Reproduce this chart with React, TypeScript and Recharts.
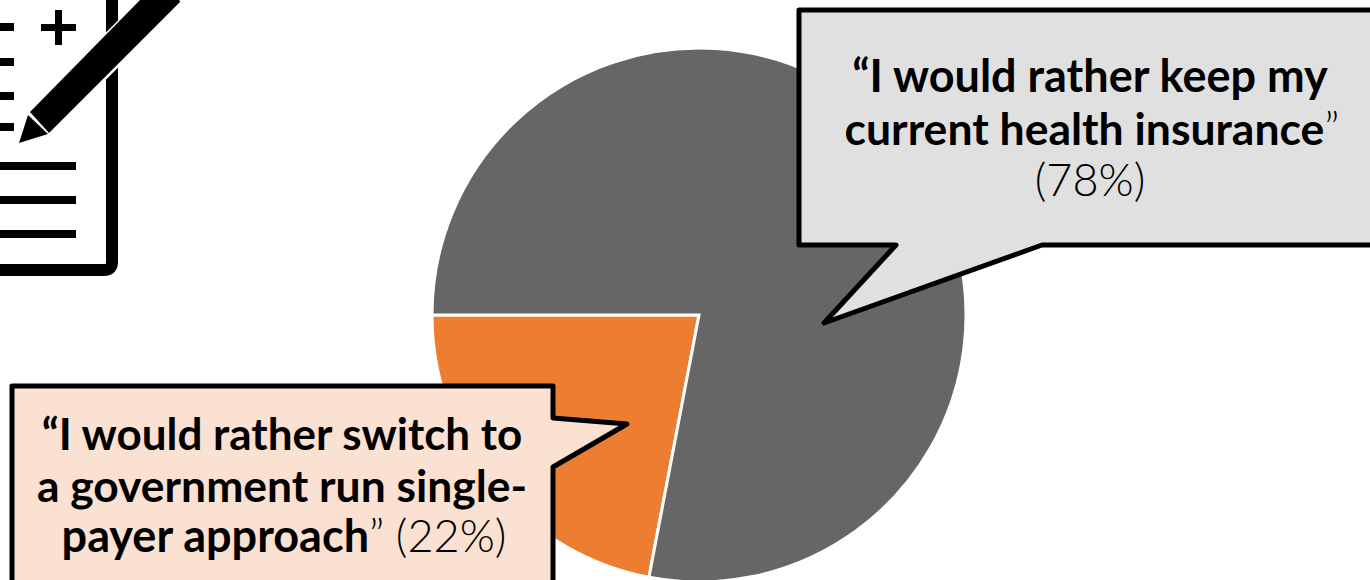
import { Pie, PieChart, Cell } from "recharts";

const answers = ["switch", "keep"];
const shares = [22, 78];
const sliceColors = ["#ED7D31", "#666666"];

const chartData = answers.map((answer, i) => ({ answer, share: shares[i] }));

const FONT = "Lato, 'Noto Sans', sans-serif";
const FONT_SIZE = 45;

const dashRows = [27, 62, 96, 127];
const lineRows = [166, 200, 234];

// clipboard + pencil, cut off by the page edge like in the slide
const SurveyIcon = () => (
  <g>
    <path
      d="M0 270 H104 Q112 270 112 262 V-10"
      fill="none"
      stroke="#000"
      strokeWidth={12}
    />
    <rect x={41} y={24} width={35} height={7} fill="#000" />
    <rect x={55} y={10} width={7} height={35} fill="#000" />
    {dashRows.map((y) => (
      <rect key={y} x={0} y={y - 4} width={14} height={8} fill="#000" />
    ))}
    {lineRows.map((y) => (
      <rect key={y} x={0} y={y - 4} width={76} height={8} fill="#000" />
    ))}
    <polygon
      points="30,112 142,0 178,-4 180,2 49,133"
      fill="#000"
      stroke="#fff"
      strokeWidth={5}
    />
    <polygon points="30,112 142,-2 178,-4 180,2 49,133" fill="#000" />
    <polygon points="28,115 19,143 48,134" fill="#000" />
  </g>
);

// Pie sits in its own top layer, so the callouts go in an svg stacked over the chart
const Callouts = () => (
  <svg
    width={1370}
    height={580}
    style={{ position: "absolute", left: 0, top: 0 }}
    fontFamily={FONT}
    fontSize={FONT_SIZE}
    fill="#000"
  >
    <SurveyIcon />
    <polygon
      points="799,10 1376,10 1376,245 1042,245 824,323 896,245 799,245"
      fill="#E0E0E0"
      stroke="#000"
      strokeWidth={5}
      strokeLinejoin="round"
    />
    <text x={1090} y={92} textAnchor="middle" fontWeight={700}>
      “I would rather keep my
    </text>
    <text x={1092} y={145} textAnchor="middle" fontSize={44.5}>
      <tspan fontWeight={700}>current health insurance</tspan>
      <tspan fontWeight={300}>”</tspan>
    </text>
    <text x={1090} y={196} textAnchor="middle" fontWeight={300}>
      (78%)
    </text>
    <polygon
      points="12,386 553,386 553,418 627,424 553,467 553,590 12,590"
      fill="#FBE1D2"
      stroke="#000"
      strokeWidth={5}
      strokeLinejoin="round"
    />
    <text x={282} y={450} textAnchor="middle" fontWeight={700} fontSize={44}>
      “I would rather switch to
    </text>
    <text x={282} y={502} textAnchor="middle" fontWeight={700} fontSize={44.4}>
      a government run single-
    </text>
    <text x={284} y={552} textAnchor="middle">
      <tspan fontWeight={700}>payer approach</tspan>
      <tspan fontWeight={300}>” (22%)</tspan>
    </text>
  </svg>
);

export default function App() {
  return (
    <div style={{ position: "absolute", left: 0, top: 0, width: 1370, height: 580 }}>
      <PieChart width={1370} height={580} margin={{ top: 0, right: 0, bottom: 0, left: 0 }}>
        <Pie
          data={chartData}
          dataKey="share"
          nameKey="answer"
          cx={699}
          cy={315}
          outerRadius={267}
          startAngle={180}
          endAngle={540}
          stroke="#fff"
          strokeWidth={3}
          isAnimationActive={false}
          label={false}
          labelLine={false}
        >
          {chartData.map((d, i) => (
            <Cell key={d.answer} fill={sliceColors[i]} />
          ))}
        </Pie>
      </PieChart>
      <Callouts />
    </div>
  );
}
